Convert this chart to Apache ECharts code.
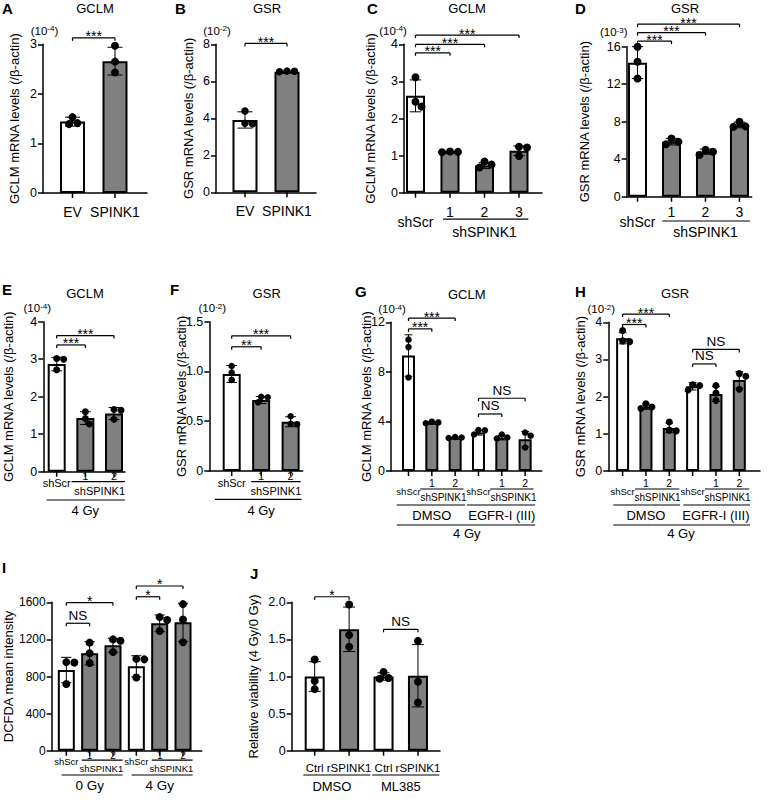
<!DOCTYPE html>
<html><head><meta charset="utf-8">
<script src="https://cdn.jsdelivr.net/npm/echarts@6/dist/echarts.min.js"></script>
<style>html,body{margin:0;padding:0;background:#fff}#c{width:782px;height:802px}</style>
</head><body><div id="c"></div>
<script>
const FONT = 'Liberation Sans, Arial, sans-serif';

// ---------------- DATA ----------------
// A  GCLM, EV vs SPINK1 (x10^-4)
const catsA = ['EV', 'SPINK1'];
const meanA = [1.44, 2.66];
const sdA   = [0.09, 0.28];
const ptsA  = [[1.53, 1.39, 1.41], [2.97, 2.65, 2.43]];
const sigA  = [[0, 1, 3.13, '***']];

// B  GSR, EV vs SPINK1 (x10^-2)
const catsB = ['EV', 'SPINK1'];
const meanB = [3.91, 6.52];
const sdB   = [0.44, 0.03];
const ptsB  = [[4.39, 3.73, 3.70], [6.52, 6.54, 6.55]];
const sigB  = [[0, 1, 8.05, '***']];

// C  GCLM, shScr vs shSPINK1 1-3 (x10^-4)
const catsC = ['shScr', '1', '2', '3'];
const meanC = [2.61, 1.10, 0.73, 1.13];
const sdC   = [0.43, 0.01, 0.08, 0.13];
const ptsC  = [[3.11, 2.32, 2.45], [1.09, 1.10, 1.11], [0.84, 0.68, 0.76], [1.24, 1.22, 0.99]];
const sigC  = [[0, 1, 3.77, '***'], [0, 2, 4.0, '***'], [0, 3, 4.25, '***']];
const subC  = [{from: 1, to: 3, label: 'shSPINK1'}];

// D  GSR, shScr vs shSPINK1 1-3 (x10^-3)
const catsD = ['shScr', '1', '2', '3'];
const meanD = [14.3, 5.87, 4.8, 7.65];
const sdD   = [1.7, 0.35, 0.28, 0.3];
const ptsD  = [[16.0, 14.4, 12.6], [6.2, 5.85, 5.6], [5.0, 4.45, 4.8], [8.0, 7.45, 7.5]];
const sigD  = [[0, 1, 16.6, '***'], [0, 2, 17.5, '***'], [0, 3, 18.4, '***']];
const subD  = [{from: 1, to: 3, label: 'shSPINK1'}];

// E  GCLM, 4 Gy (x10^-4)
const catsE = ['shScr', '1', '2'];
const meanE = [2.87, 1.43, 1.55];
const sdE   = [0.18, 0.17, 0.16];
const ptsE  = [[3.02, 3.0, 2.72], [1.6, 1.42, 1.27], [1.66, 1.64, 1.40]];
const sigE  = [[0, 1, 3.38, '***'], [0, 2, 3.63, '***']];
const subE  = [{from: 1, to: 2, label: 'shSPINK1'}];
const grpE  = [{from: 0, to: 2, label: '4 Gy'}];

// F  GSR, 4 Gy (x10^-2)
const catsF = ['shScr', '1', '2'];
const meanF = [0.975, 0.713, 0.495];
const sdF   = [0.085, 0.035, 0.05];
const ptsF  = [[1.055, 0.99, 0.915], [0.745, 0.74, 0.69], [0.55, 0.47, 0.475]];
const sigF  = [[0, 1, 1.248, '**'], [0, 2, 1.358, '***']];
const subF  = [{from: 1, to: 2, label: 'shSPINK1'}];
const grpF  = [{from: 0, to: 2, label: '4 Gy'}];

// G  GCLM, DMSO / EGFR-I (III), 4 Gy (x10^-4)
const catsG = ['shScr', '1', '2', 'shScr', '1', '2'];
const meanG = [9.32, 3.9, 2.69, 3.1, 2.69, 2.56];
const sdG   = [1.67, 0.08, 0.05, 0.2, 0.18, 0.62];
const ptsG  = [[10.6, 10.0, 7.55], [3.98, 3.92, 3.85], [2.74, 2.66, 2.7], [3.3, 3.28, 2.95], [2.95, 2.7, 2.62], [3.1, 2.85, 1.9]];
const sigG  = [[0, 1, 11.47, '***'], [0, 2, 12.34, '***'], [3, 4, 4.6, 'NS'], [3, 5, 5.87, 'NS']];
const subG  = [{from: 1, to: 2, label: 'shSPINK1'}, {from: 4, to: 5, label: 'shSPINK1'}];
const grpG  = [{from: 0, to: 2, label: 'DMSO'}, {from: 3, to: 5, label: 'EGFR-I (III)'}];
const outG  = [{from: 0, to: 5, label: '4 Gy'}];

// H  GSR, DMSO / EGFR-I (III), 4 Gy (x10^-2)
const catsH = ['shScr', '1', '2', 'shScr', '1', '2'];
const meanH = [3.57, 1.73, 1.16, 2.28, 2.07, 2.45];
const sdH   = [0.15, 0.07, 0.13, 0.1, 0.2, 0.22];
const ptsH  = [[3.78, 3.48, 3.5], [1.81, 1.72, 1.68], [1.32, 1.1, 1.08], [2.32, 2.3, 2.18], [2.3, 2.1, 1.9], [2.62, 2.55, 2.2]];
const sigH  = [[0, 1, 3.94, '***'], [0, 2, 4.22, '***'], [3, 4, 2.88, 'NS'], [3, 5, 3.27, 'NS']];
const subH  = [{from: 1, to: 2, label: 'shSPINK1'}, {from: 4, to: 5, label: 'shSPINK1'}];
const grpH  = [{from: 0, to: 2, label: 'DMSO'}, {from: 3, to: 5, label: 'EGFR-I (III)'}];
const outH  = [{from: 0, to: 5, label: '4 Gy'}];

// I  DCFDA, 0 Gy / 4 Gy
const catsI = ['shScr', '1', '2', 'shScr', '1', '2'];
const meanI = [870, 1050, 1136, 910, 1373, 1384];
const sdI   = [137, 125, 76, 114, 90, 205];
const ptsI  = [[950, 955, 720], [1165, 1050, 945], [1200, 1185, 1065], [990, 985, 790], [1440, 1410, 1290], [1580, 1415, 1170]];
const sigI  = [[0, 1, 1374, 'NS'], [0, 2, 1596, '*'], [3, 4, 1660, '*'], [3, 5, 1776, '*']];
const subI  = [{from: 1, to: 2, label: 'shSPINK1'}, {from: 4, to: 5, label: 'shSPINK1'}];
const grpI  = [{from: 0, to: 2, label: '0 Gy'}, {from: 3, to: 5, label: '4 Gy'}];

// J  Relative viability, DMSO / ML385
const catsJ = ['Ctrl', 'rSPINK1', 'Ctrl', 'rSPINK1'];
const meanJ = [1.0, 1.636, 1.0, 1.01];
const sdJ   = [0.2, 0.3, 0.05, 0.42];
const ptsJ  = [[1.23, 0.94, 0.83], [1.97, 1.56, 1.40], [1.06, 0.98, 0.97], [1.48, 0.93, 0.65]];
const sigJ  = [[0, 1, 2.075, '*'], [2, 3, 1.636, 'NS']];
const grpJ  = [{from: 0, to: 1, label: 'DMSO'}, {from: 2, to: 3, label: 'ML385'}];

const CONTROLS = ['EV', 'shScr', 'Ctrl'];

const panels = [
  {key: 'A', yName: 'GCLM mRNA levels (/β-actin)', cats: catsA, mean: meanA, sd: sdA, pts: ptsA, sig: sigA, sub: [], grp: [], out: []},
  {key: 'B', yName: 'GSR mRNA levels (/β-actin)',  cats: catsB, mean: meanB, sd: sdB, pts: ptsB, sig: sigB, sub: [], grp: [], out: []},
  {key: 'C', yName: 'GCLM mRNA levels (/β-actin)', cats: catsC, mean: meanC, sd: sdC, pts: ptsC, sig: sigC, sub: subC, grp: [], out: []},
  {key: 'D', yName: 'GSR mRNA levels (/β-actin)',  cats: catsD, mean: meanD, sd: sdD, pts: ptsD, sig: sigD, sub: subD, grp: [], out: []},
  {key: 'E', yName: 'GCLM mRNA levels (/β-actin)', cats: catsE, mean: meanE, sd: sdE, pts: ptsE, sig: sigE, sub: subE, grp: grpE, out: []},
  {key: 'F', yName: 'GSR mRNA levels (/β-actin)',  cats: catsF, mean: meanF, sd: sdF, pts: ptsF, sig: sigF, sub: subF, grp: grpF, out: []},
  {key: 'G', yName: 'GCLM mRNA levels (/β-actin)', cats: catsG, mean: meanG, sd: sdG, pts: ptsG, sig: sigG, sub: subG, grp: grpG, out: outG},
  {key: 'H', yName: 'GSR mRNA levels (/β-actin)',  cats: catsH, mean: meanH, sd: sdH, pts: ptsH, sig: sigH, sub: subH, grp: grpH, out: outH},
  {key: 'I', yName: 'DCFDA mean intensity',        cats: catsI, mean: meanI, sd: sdI, pts: ptsI, sig: sigI, sub: subI, grp: grpI, out: []},
  {key: 'J', yName: 'Relative viability (4 Gy/0 Gy)', cats: catsJ, mean: meanJ, sd: sdJ, pts: ptsJ, sig: sigJ, sub: [], grp: grpJ, out: []}
];

// ---------------- LAYOUT (positions / sizes) ----------------
const L = {
  A: {grid: [43, 44.3, 104, 148.7], xr: [-0.694, 1.753], yMax: 3, yStep: 1, barW: 25, sym: 8, gap: 22, tf: 12.5,
      rows: {low: 19}, fonts: {low: 14}, ext: {}, exp: ['-4', 1.5, -13.5], title: ['GCLM', 95, 8.3], letter: ['A', 2, 8]},
  B: {grid: [216, 44.3, 100, 148], xr: [-0.69, 1.69], yMax: 8, yStep: 2, barW: 25, sym: 7.5, gap: 21, tf: 12.5,
      rows: {low: 19}, fonts: {low: 14}, ext: {}, exp: ['-2', 1, -13.5], title: ['GSR', 267, 8.3], letter: ['B', 175, 8]},
  C: {grid: [404, 44.3, 138, 148.4], xr: [-0.333, 3.667], yMax: 4, yStep: 1, barW: 19, sym: 8, gap: 27, tf: 12.5,
      rows: {num: 19, low: 29, subLine: 26.5, subLabel: 39}, fonts: {num: 14, low: 14, sub: 14},
      ext: {sub: [0.2, 0.27]}, exp: ['-4', -11, -13.5], title: ['GCLM', 467, 8.3], letter: ['C', 367, 8]},
  D: {grid: [626.7, 46.7, 125, 150], xr: [-0.318, 3.36], yMax: 16, yStep: 4, barW: 19, sym: 8, gap: 36, tf: 12.5,
      rows: {num: 15, low: 25, subLine: 24.3, subLabel: 35}, fonts: {num: 14, low: 14, sub: 14},
      ext: {sub: [0.27, 0.31]}, exp: ['-3', -13, -14.5], title: ['GSR', 685, 8.3], letter: ['D', 575, 8]},
  E: {grid: [43.3, 321.7, 81.7, 150], xr: [-0.468, 2.384], yMax: 4, yStep: 1, barW: 18, sym: 7, gap: 28, tf: 12.5,
      rows: {num: 4.5, low: 11.6, subLine: 10, subLabel: 19, grpLine: 28.3, grpLabel: 39},
      fonts: {num: 11, low: 11, sub: 11, grp: 13}, ext: {sub: [0.48, 0.38], grp: [0.35, 0.38]},
      exp: ['-4', -6, -13.5], title: ['GCLM', 85, 293], letter: ['E', 2, 289]},
  F: {grid: [209.3, 321.7, 93.4, 149.3], xr: [-0.76, 2.41], yMax: 1.5, yStep: 0.5, barW: 18, sym: 6.5, gap: 21, tf: 12.5,
      rows: {num: 5, low: 12, subLine: 10.7, subLabel: 19.7, grpLine: 28.3, grpLabel: 39.7},
      fonts: {num: 11, low: 11, sub: 11, grp: 13}, ext: {sub: [0.34, 0.34], grp: [0.57, 0.37]},
      exp: ['-2', 3, -13.5], title: ['GSR', 266.7, 293], letter: ['F', 170, 289]},
  G: {grid: [391, 322.3, 150.7, 148.7], xr: [-0.75, 5.71], yMax: 12, yStep: 4, barW: 13, sym: 6.5, gap: 18, tf: 12.5,
      rows: {num: 12.3, low: 20, subLine: 18, subLabel: 26.3, grpLine: 34, grpLabel: 44.3, outLine: 54, outLabel: 62.3},
      fonts: {num: 10.5, low: 9.5, sub: 10, grp: 13, out: 13}, ext: {sub: [0.5, 0.36], grp: [0.5, 0.43], out: [0.5, 0.43]},
      exp: ['-4', 1, -13], title: ['GCLM', 466.7, 294], letter: ['G', 355, 291.7]},
  H: {grid: [608.3, 322.3, 151.7, 148.7], xr: [-0.613, 5.887], yMax: 4, yStep: 1, barW: 13, sym: 7, gap: 21.6, tf: 12.5,
      rows: {num: 12.3, low: 20, subLine: 18, subLabel: 26.3, grpLine: 34, grpLabel: 44.3, outLine: 54, outLabel: 62.3},
      fonts: {num: 10.5, low: 9.5, sub: 10, grp: 13, out: 13}, ext: {sub: [0.47, 0.43], grp: [0.4, 0.46], out: [0.4, 0.46]},
      exp: ['-2', -7, -13], title: ['GSR', 675, 293], letter: ['H', 575, 291.7]},
  I: {grid: [51.7, 602.3, 150, 148.4], xr: [-0.626, 5.80], yMax: 1600, yStep: 400, barW: 17, sym: 8, gap: 36.7, tf: 12,
      rows: {num: 5, low: 11, subLine: 9.5, subLabel: 18, grpLine: 24.3, grpLabel: 34.3},
      fonts: {num: 10, low: 9.5, sub: 9.5, grp: 13.5}, ext: {sub: [0.34, 0.41], grp: [0.2, 0.41]},
      exp: null, title: null, letter: ['I', 2, 567.5]},
  J: {grid: [291.7, 602.3, 148.3, 148.4], xr: [-0.668, 3.64], yMax: 2, yStep: 0.5, barW: 20, sym: 8, gap: 32, tf: 12.5,
      rows: {low: 17.6, grpLine: 24.3, grpLabel: 35.3}, fonts: {low: 11.5, grp: 13}, ext: {grp: [0.33, 0.62]},
      exp: null, title: null, letter: ['J', 250, 573]}
};

// ---------------- helpers ----------------
function swarm(ys, size) {
  const order = ys.map((y, i) => i).sort((a, b) => ys[a] - ys[b]);
  const placed = [], dx = new Array(ys.length).fill(0);
  const lim = size * 0.95;
  for (const i of order) {
    let best = 0;
    for (let k = 0; k < 80; k++) {
      const c = (k % 2 ? 1 : -1) * Math.ceil(k / 2) * 0.5;
      if (placed.every(p => Math.hypot(p.x - c, p.y - ys[i]) >= lim)) { best = c; break; }
    }
    placed.push({x: best, y: ys[i]});
    dx[i] = best;
  }
  return dx;
}
const line = (x1, y1, x2, y2, w) => ({type: 'line', silent: true, shape: {x1, y1, x2, y2}, style: {stroke: '#000', lineWidth: w || 1}});
const text = (t, x, y, fs, extra) => ({type: 'text', silent: true,
  style: Object.assign({text: t, x, y, fill: '#000', fontSize: fs, fontFamily: FONT, fontWeight: 'normal', align: 'center', verticalAlign: 'middle'}, extra || {})});

const grids = [], xAxes = [], yAxes = [], series = [], graphics = [];

panels.forEach((P, k) => {
  const Q = L[P.key];
  const oneDec = (Q.yStep < 1);
  grids.push({left: Q.grid[0], top: Q.grid[1], width: Q.grid[2], height: Q.grid[3], containLabel: false, outerBoundsMode: 'none'});
  xAxes.push({gridIndex: k, type: 'value', min: Q.xr[0], max: Q.xr[1],
    axisLine: {show: true, onZero: false, lineStyle: {color: '#000', width: 1.5}},
    axisTick: {show: false}, axisLabel: {show: false}, splitLine: {show: false}});
  yAxes.push({gridIndex: k, type: 'value', min: 0, max: Q.yMax, interval: Q.yStep,
    name: P.yName, nameLocation: 'middle', nameGap: Q.gap, nameRotate: 90, nameMoveOverlap: false,
    nameTextStyle: {color: '#000', fontSize: 13, fontFamily: FONT, fontWeight: 'normal'},
    axisLine: {show: true, onZero: false, lineStyle: {color: '#000', width: 1.5}},
    axisTick: {show: true, length: 5, lineStyle: {color: '#000', width: 1.5}},
    axisLabel: {color: '#000', fontSize: Q.tf, fontFamily: FONT, fontWeight: 'normal', margin: 6,
      formatter: v => (v === 0 ? '0' : (oneDec ? v.toFixed(1) : String(v)))},
    splitLine: {show: false}});

  // bars
  series.push({type: 'bar', xAxisIndex: k, yAxisIndex: k, barWidth: Q.barW, silent: true, z: 2,
    data: P.mean.map((m, i) => [i, m]),
    itemStyle: {borderColor: '#000', borderWidth: 2,
      color: p => (CONTROLS.includes(P.cats[p.dataIndex]) ? '#ffffff' : '#808080')}});

  // error bars (mean ± SD)
  const capW = Q.barW * 0.6;
  series.push({type: 'custom', xAxisIndex: k, yAxisIndex: k, z: 3, silent: true,
    data: P.mean.map((m, i) => [i, m - P.sd[i], m + P.sd[i]]),
    encode: {x: 0, y: [1, 2]},
    renderItem: (params, api) => {
      const i = api.value(0);
      const lo = api.coord([i, api.value(1)]), hi = api.coord([i, api.value(2)]);
      const h = capW / 2;
      return {type: 'group', children: [
        line(hi[0], hi[1], lo[0], lo[1], 1),
        line(hi[0] - h, hi[1], hi[0] + h, hi[1], 1),
        line(lo[0] - h, lo[1], lo[0] + h, lo[1], 1)
      ]};
    }});

  // individual points (swarm-arranged)
  series.push({type: 'custom', xAxisIndex: k, yAxisIndex: k, z: 4, silent: true,
    data: P.pts.map((arr, i) => [i].concat(arr)),
    encode: {x: 0, y: [1, 2, 3]},
    renderItem: (params, api) => {
      const i = api.value(0);
      const vals = [api.value(1), api.value(2), api.value(3)];
      const px = vals.map(v => api.coord([i, v]));
      const dx = swarm(px.map(p => p[1]), Q.sym);
      return {type: 'group', children: px.map((p, j) => ({type: 'circle', silent: true,
        shape: {cx: p[0] + dx[j], cy: p[1], r: Q.sym / 2}, style: {fill: '#000'}}))};
    }});

  // category labels, group lines, x ticks, significance brackets
  series.push({type: 'custom', xAxisIndex: k, yAxisIndex: k, z: 5, silent: true, clip: false,
    data: [[0, 0]], encode: {x: 0, y: 1},
    renderItem: (params, api) => {
      const ch = [];
      const y0 = api.coord([0, 0])[1];
      const cx = i => api.coord([i, 0])[0];
      const sp = cx(1) - cx(0);
      P.cats.forEach((c, i) => ch.push(line(cx(i), y0, cx(i), y0 + 5, 1.5)));
      const inSub = i => P.sub.some(s => i >= s.from && i <= s.to);
      P.cats.forEach((c, i) => {
        const s = inSub(i);
        ch.push(text(c, cx(i), y0 + (s ? Q.rows.num : Q.rows.low), s ? Q.fonts.num : Q.fonts.low));
      });
      const group = (g, lo, la, fs, ext) => {
        const a = cx(g.from) - ext[0] * sp, b = cx(g.to) + ext[1] * sp;
        ch.push(line(a, y0 + lo, b, y0 + lo, 1.2));
        ch.push(text(g.label, (cx(g.from) + cx(g.to)) / 2, y0 + la, fs));
      };
      P.sub.forEach(g => group(g, Q.rows.subLine, Q.rows.subLabel, Q.fonts.sub, Q.ext.sub));
      P.grp.forEach(g => group(g, Q.rows.grpLine, Q.rows.grpLabel, Q.fonts.grp, Q.ext.grp));
      P.out.forEach(g => group(g, Q.rows.outLine, Q.rows.outLabel, Q.fonts.out, Q.ext.out));
      P.sig.forEach(([a, b, v, t]) => {
        const y = api.coord([0, v])[1];
        const xa = cx(a), xb = cx(b);
        ch.push(line(xa, y, xb, y, 1.2), line(xa, y, xa, y + 3, 1.2), line(xb, y, xb, y + 3, 1.2));
        const ns = (t === 'NS');
        ch.push(text(t, (xa + xb) / 2, ns ? y - 8 : y - 1.5, ns ? 13.5 : 14));
      });
      return {type: 'group', children: ch};
    }});

  // titles, panel letters, exponent labels
  graphics.push({type: 'text', x: Q.letter[1], y: Q.letter[2], silent: true,
    style: {text: Q.letter[0], fontSize: 15, fontWeight: 'bold', fontFamily: FONT, fill: '#000', align: 'left', verticalAlign: 'middle'}});
  if (Q.title) graphics.push({type: 'text', x: Q.title[1], y: Q.title[2], silent: true,
    style: {text: Q.title[0], fontSize: 13, fontFamily: FONT, fontWeight: 'normal', fill: '#000', align: 'center', verticalAlign: 'middle'}});
  if (Q.exp) graphics.push({type: 'text', x: Q.grid[0] + Q.exp[1], y: Q.grid[1] + Q.exp[2], silent: true,
    style: {text: '{a|(10}{b|' + Q.exp[0] + '}{a|)}', align: 'center', verticalAlign: 'middle',
      rich: {a: {fontSize: 11.5, fontFamily: FONT, fontWeight: 'normal', fill: '#000', color: '#000'},
             b: {fontSize: 8, fontFamily: FONT, fontWeight: 'normal', fill: '#000', color: '#000', verticalAlign: 'top'}}}});
});

const chart = echarts.init(document.getElementById('c'), null, {renderer: 'svg', width: 782, height: 802});
chart.setOption({
  animation: false,
  backgroundColor: '#ffffff',
  textStyle: {fontFamily: FONT},
  grid: grids, xAxis: xAxes, yAxis: yAxes, series: series, graphic: graphics
});
</script>
</body></html>
